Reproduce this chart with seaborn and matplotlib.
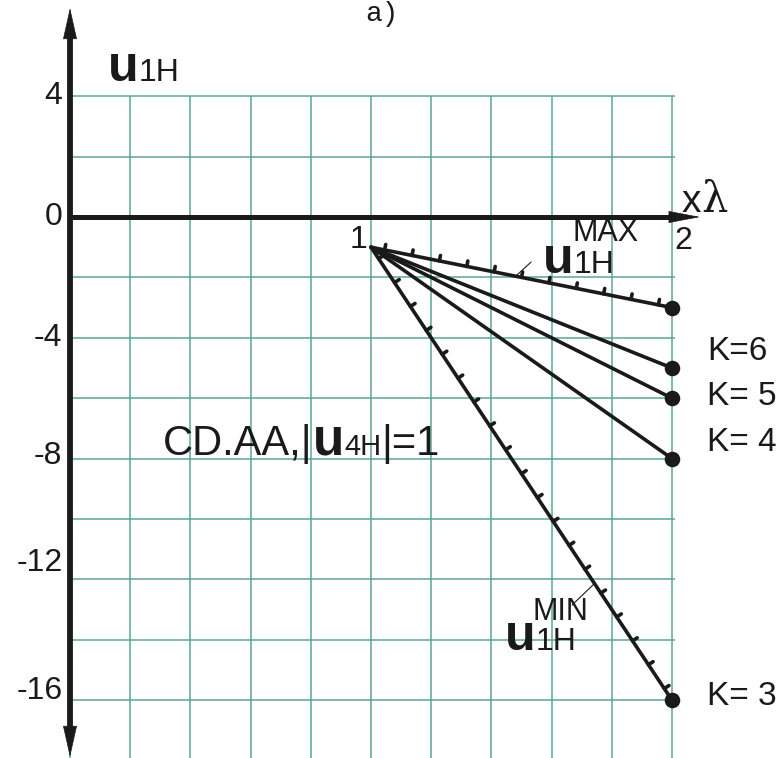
import numpy as np
import pandas as pd
import matplotlib
matplotlib.use("Agg")
import matplotlib.pyplot as plt
import seaborn as sns
from matplotlib import patheffects
from matplotlib.patches import FancyArrowPatch

# ---- data -------------------------------------------------------------
x_start, y_start = 1.0, -1.0          # common starting point "1"
x_end = 2.0                           # all lines end at x = 2
end_values = [-3, -5, -6, -8, -16]    # u1H at x = 2
k_labels = ["", "K=6", "K= 5", "K= 4", "K= 3"]
k_label_y = [None, -4.47, -5.96, -7.48, -15.89]
hatched = [True, False, False, False, True]   # bounding lines (MAX / MIN)

y_ticks = [4, 0, -4, -8, -12, -16]
y_tick_labels = ["4", "0", "-4", "-8", "-12", "-16"]
y_tick_pos = [4, 0, -4, -7.9, -11.45, -15.7]

grid_x = [0.0, 0.2, 0.4, 0.6, 0.8, 1.0, 1.2, 1.4, 1.6, 1.8, 2.0]
grid_y = [4, 2, 0, -2, -4, -6, -8, -10, -12, -14, -16]

INK = "#1a1a1a"
GRID = "#5ba596"

sns.set_theme(style="white")
plt.rcParams["font.family"] = ["Liberation Sans", "DejaVu Sans"]

fig = plt.figure(figsize=(7.79, 7.58), dpi=100)
ax = fig.add_axes([0, 0, 1, 1])
ax.set_xlim(-70 / 301, 709 / 301)
ax.set_ylim(-541 / 30.2, 217 / 30.2)
ax.axis("off")

# ---- grid ---------------------------------------------------------------
ax.vlines(grid_x, -18.5, 4, color=GRID, lw=1.1, zorder=1)
ax.hlines(grid_y, 0, 2.01, color=GRID, lw=1.1, zorder=1)

# ---- axes with arrows ---------------------------------------------------
ax.plot([0, 0], [-17.0, 6.0], color=INK, lw=4.2, solid_capstyle="butt", zorder=3)
ax.plot([-0.005, 2.0], [0, 0], color=INK, lw=3.6, solid_capstyle="butt", zorder=3)
head = dict(arrowstyle="-|>,head_length=21,head_width=4.7", mutation_scale=1,
            color=INK, lw=0.5, shrinkA=0, shrinkB=0, zorder=4)
ax.add_patch(FancyArrowPatch((0, 5.5), (0, 6.92), **head))
ax.add_patch(FancyArrowPatch((0, -16.5), (0, -17.88), **head))
ax.add_patch(FancyArrowPatch((1.95, 0), (2.093, 0),
                             **{**head, "arrowstyle": "-|>,head_length=21,head_width=4"}))

for lab, yp in zip(y_tick_labels, y_tick_pos):
    ax.text(-0.025, yp, lab, ha="right", va="center", fontsize=23, color=INK)

# ---- characteristic lines ----------------------------------------------
lines = pd.DataFrame({
    "x": [x_start, x_end] * len(end_values),
    "u": [v for e in end_values for v in (y_start, e)],
    "line": [i for i in range(len(end_values)) for _ in range(2)],
})
for i, (e, hatch) in enumerate(zip(end_values, hatched)):
    effects = [patheffects.withTickedStroke(angle=90, spacing=20, length=0.2)] if hatch else None
    sns.lineplot(data=lines[lines["line"] == i], x="x", y="u", ax=ax, color=INK,
                 lw=2.6, estimator=None, sort=False, path_effects=effects, zorder=5)

sns.scatterplot(x=[x_end] * len(end_values), y=end_values, ax=ax, color=INK,
                s=125, linewidth=0, zorder=6)

for lab, ly in zip(k_labels, k_label_y):
    if lab:
        ax.text(2.116, ly, lab, ha="left", va="center", fontsize=24, color=INK)

# ---- labels -------------------------------------------------------------
renderer = fig.canvas.get_renderer()


def compose(x, y, pieces):
    """Place text pieces side by side on a common baseline."""
    xd = x
    for txt, size, *rest in pieces:
        kw = {}
        if rest:
            kw.update(rest[0])
        t = ax.text(xd, y, txt, ha="left", va="baseline", fontsize=size,
                    color=INK, **kw)
        bb = t.get_window_extent(renderer)
        xd = ax.transData.inverted().transform((bb.x1, bb.y0))[0]


BOLD = {"fontweight": "bold"}

ax.text(1.037, 6.72, "a)", ha="center", va="center", fontsize=20,
        family="Liberation Mono", color=INK)
compose(0.126, 4.50, [("u", 36, BOLD), ("1H", 23)])
ax.text(0.960, -0.76, "1", ha="center", va="center", fontsize=23, color=INK)
ax.text(2.037, -0.79, "2", ha="center", va="center", fontsize=23, color=INK)
compose(2.033, 0.166, [("x", 28), ("λ", 30, {"family": "DejaVu Serif"})])

ax.text(1.671, -0.80, "MAX", ha="left", va="baseline", fontsize=22, color=INK)
compose(1.571, -1.85, [("u", 36, BOLD), ("1H", 23)])
ax.plot([1.485, 1.532], [-1.92, -1.49], color=INK, lw=0.8, zorder=5)

ax.text(1.538, -13.33, "MIN", ha="left", va="baseline", fontsize=22, color=INK)
compose(1.445, -14.34, [("u", 36, BOLD), ("1H", 23)])
ax.plot([1.744, 1.668], [-12.12, -12.85], color=INK, lw=0.8, zorder=5)

compose(0.309, -7.88, [("CD.AA,|", 30), ("u", 37, BOLD), ("4H", 21), ("|=1", 30)])

fig.savefig("out.png", dpi=100)
